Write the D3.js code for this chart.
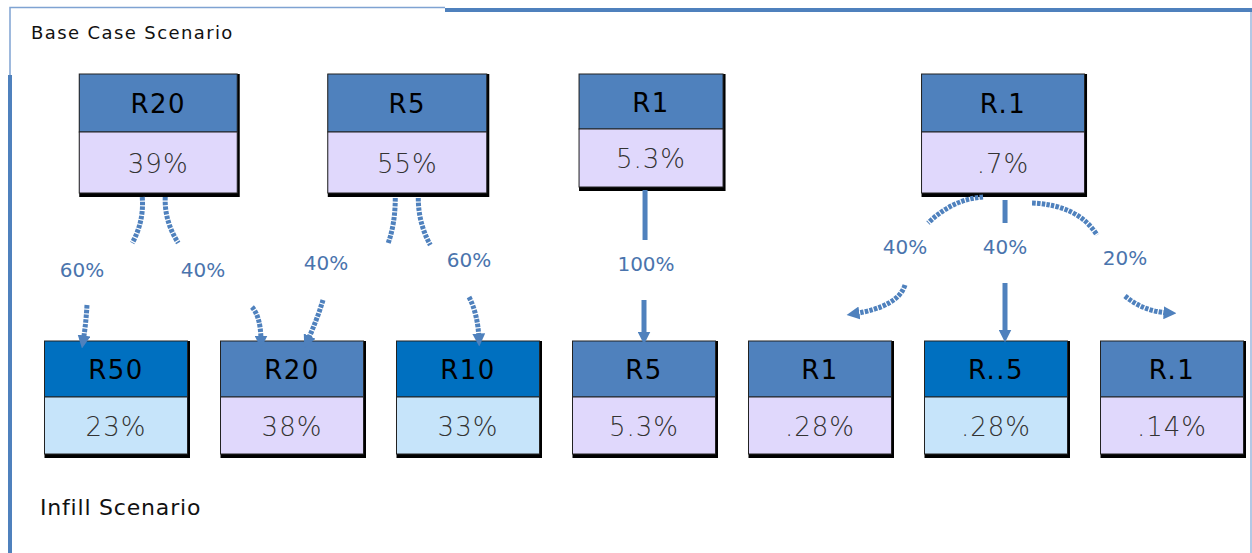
<!DOCTYPE html>
<html>
<head>
<meta charset="utf-8">
<script src="https://cdn.jsdelivr.net/npm/d3@7"></script>
<style>
  html, body { margin: 0; padding: 0; background: #fff; }
  svg { display: block; }
</style>
</head>
<body>
<div id="chart"></div>
<script>
// 数据
const titleTop = 'Base Case Scenario';
const titleBottom = 'Infill Scenario';

const topNames = ['R20', 'R5', 'R1', 'R.1'];
const topValues = ['39%', '55%', '5.3%', '.7%'];

const bottomNames = ['R50', 'R20', 'R10', 'R5', 'R1', 'R..5', 'R.1'];
const bottomValues = ['23%', '38%', '33%', '5.3%', '.28%', '.28%', '.14%'];
const bottomKind = ['alt', 'base', 'alt', 'base', 'base', 'alt', 'base'];

// 流向: 从上层索引到下层索引
const flowFrom = [0, 0, 1, 1, 2, 3, 3, 3];
const flowTo = [0, 1, 1, 2, 3, 4, 5, 6];
const flowLabels = ['60%', '40%', '40%', '60%', '100%', '40%', '40%', '20%'];

// 布局
const width = 1252, height = 553;
const colBlue = '#4f81bd';

const svg = d3.select('#chart').append('svg').attr('width', width).attr('height', height);

const x = d3.scaleLinear().domain([0, bottomNames.length - 1]).range([116, 1172]);
const topSlot = [0.24, 1.655, 3.04, 5.04];
const topW = [158, 159, 144, 163];
const topH = [[58, 61], [58, 61], [55, 58], [58, 61]];
const topY = 74;
const botY = 341, botW = 143, botH = [56, 57];

const fills = {
    base: { head: '#4f81bd', body: '#e0d8fc' },
    alt: { head: '#0070c0', body: '#c6e4fa' }
};

// 外框
svg.append('path').attr('d', 'M10,76V7.5H445').attr('fill', 'none')
    .attr('stroke', '#7fa3d2').attr('stroke-width', 1.5);
svg.append('line').attr('x1', 10).attr('x2', 10).attr('y1', 75).attr('y2', height)
    .attr('stroke', colBlue).attr('stroke-width', 4);
svg.append('line').attr('x1', 445).attr('x2', width).attr('y1', 10).attr('y2', 10)
    .attr('stroke', colBlue).attr('stroke-width', 4);
svg.append('line').attr('x1', 1251).attr('x2', 1251).attr('y1', 12).attr('y2', height)
    .attr('stroke', '#9ab6dc').attr('stroke-width', 1.5);

svg.append('text').attr('x', 31).attr('y', 39).text(titleTop)
    .style('font-family', 'DejaVu Sans').style('font-size', '18px')
    .style('letter-spacing', '1.4px').attr('fill', '#111');
svg.append('text').attr('x', 40).attr('y', 515).text(titleBottom)
    .style('font-family', 'DejaVu Sans').style('font-size', '22px')
    .style('letter-spacing', '0.8px').attr('fill', '#111');

// 画节点
function drawBox(g, cx, y, w, hh, hb, name, value, kind) {
    const left = cx - w / 2;
    g.append('rect').attr('x', left).attr('y', y).attr('width', w + 2.5).attr('height', hh + hb + 4)
        .attr('fill', '#000');
    g.append('rect').attr('x', left).attr('y', y).attr('width', w).attr('height', hh)
        .attr('fill', fills[kind].head).attr('stroke', '#222').attr('stroke-width', 1);
    g.append('rect').attr('x', left).attr('y', y + hh).attr('width', w).attr('height', hb)
        .attr('fill', fills[kind].body).attr('stroke', '#222').attr('stroke-width', 1);
    g.append('text').attr('x', cx).attr('y', y + hh / 2 + 10).attr('text-anchor', 'middle')
        .text(name).style('font-family', 'DejaVu Sans').style('font-size', '26px')
        .style('letter-spacing', '1.5px').attr('fill', '#000');
    g.append('text').attr('x', cx).attr('y', y + hh + hb / 2 + 10).attr('text-anchor', 'middle')
        .text(value).style('font-family', 'DejaVu Sans').style('font-size', '26px')
        .style('font-weight', '300').style('letter-spacing', '1px').attr('fill', '#333');
}

const nodes = svg.append('g').attr('class', 'nodes');
topNames.forEach(function (n, i) {
    drawBox(nodes, x(topSlot[i]), topY, topW[i], topH[i][0], topH[i][1], n, topValues[i], 'base');
});
bottomNames.forEach(function (n, i) {
    drawBox(nodes, x(i), botY, botW, botH[0], botH[1], n, bottomValues[i], bottomKind[i]);
});

// 箭头
const defs = svg.append('defs');
defs.append('marker').attr('id', 'arrow').attr('viewBox', '0 0 10 10')
    .attr('refX', 5).attr('refY', 5).attr('markerWidth', 2.6).attr('markerHeight', 2.6)
    .attr('orient', 'auto')
    .append('path').attr('d', 'M0,0L10,5L0,10z').attr('fill', colBlue);

// 每条流向的折线形状(相对上层节点底部中心 / 下层节点顶部中心)
const pBottom = 197, cTop = 342;
const upperShape = [
    [[-16, 0], [-14, 24], [-26, 46]],
    [[7, 0], [6, 24], [20, 46]],
    [[-12, 1], [-12, 26], [-19, 46]],
    [[11, 1], [11, 26], [23, 48]],
    [[-6, -7], [-6, 18], [-6, 43]],
    [[-20, 0], [-50, 2], [-75, 26]],
    [[2, 3], [2, 15], [2, 26]],
    [[29, 6], [75, 8], [94, 38]]
];
const labelShape = [[-34, -72], [-89, -72], [34, -79], [1, -82], [2, -78], [85, -95], [9, -95], [-47, -84]];
const lowerShape = [
    [[-29, -37], [-30, -18], [-33, 0]],
    [[-40, -35], [-31, -25], [-31, 0]],
    [[31, -42], [25, -22], [15, 0]],
    [[1, -45], [10, -28], [11, -2]],
    [[0, -42], [0, -23], [0, -4]],
    [[85, -57], [78, -35], [33, -28]],
    [[9, -59], [9, -32], [9, -6]],
    [[-47, -46], [-28, -30], [-2, -29]]
];
const straight = [false, false, false, false, true, false, true, false];

function quad(pts) {
    const p = d3.path();
    p.moveTo(pts[0][0], pts[0][1]);
    p.quadraticCurveTo(pts[1][0], pts[1][1], pts[2][0], pts[2][1]);
    return p.toString();
}

const flows = svg.append('g').attr('class', 'flows');
flowLabels.forEach(function (lab, i) {
    const px = x(topSlot[flowFrom[i]]);
    const cx = x(flowTo[i]);
    const up = upperShape[i].map(function (d) { return [px + d[0], pBottom + d[1]]; });
    const lo = lowerShape[i].map(function (d) { return [cx + d[0], cTop + d[1]]; });
    const dash = straight[i] ? null : '3.5 1.2';
    flows.append('path').attr('d', quad(up)).attr('fill', 'none')
        .attr('stroke', colBlue).attr('stroke-width', 5).attr('stroke-dasharray', dash);
    flows.append('path').attr('d', quad(lo)).attr('fill', 'none')
        .attr('stroke', colBlue).attr('stroke-width', 5).attr('stroke-dasharray', dash)
        .attr('marker-end', 'url(#arrow)');
    flows.append('text').attr('x', cx + labelShape[i][0]).attr('y', cTop + labelShape[i][1] + 7)
        .attr('text-anchor', 'middle').text(lab)
        .style('font-family', 'DejaVu Sans').style('font-size', '20px')
        .attr('fill', '#4a74ad');
});
</script>
</body>
</html>
